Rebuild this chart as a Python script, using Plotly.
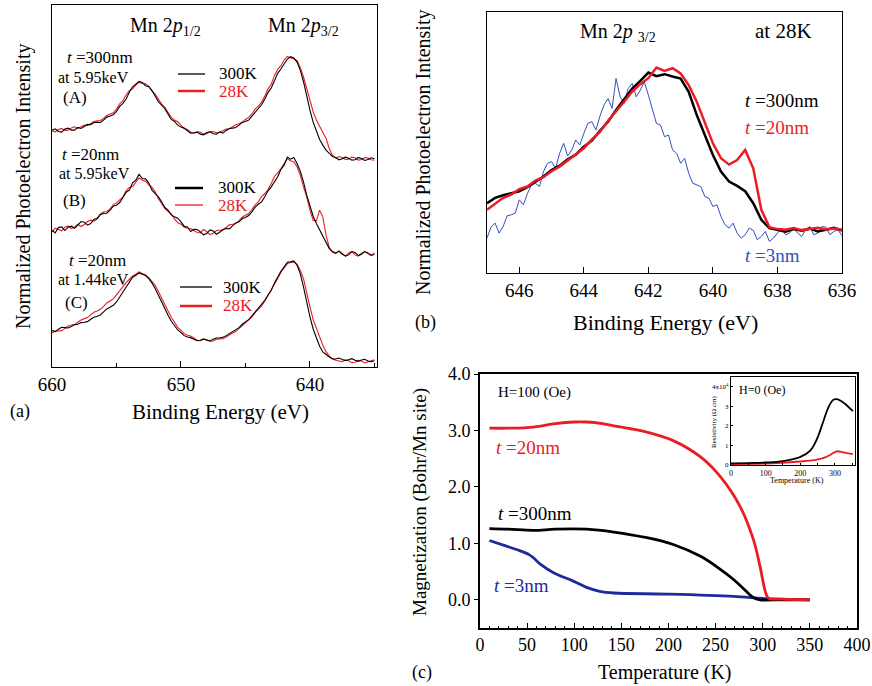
import plotly.graph_objects as go

# ---------------- Panel (a) data: binding energy grid (eV) ----------------
E_A = [660.0, 659.75, 659.5, 659.25, 659.0, 658.75, 658.5, 658.25, 658.0, 657.75,
       657.5, 657.25, 657.0, 656.75, 656.5, 656.25, 656.0, 655.75, 655.5, 655.25,
       655.0, 654.75, 654.5, 654.25, 654.0, 653.75, 653.5, 653.25, 653.0, 652.75,
       652.5, 652.25, 652.0, 651.75, 651.5, 651.25, 651.0, 650.75, 650.5, 650.25,
       650.0, 649.75, 649.5, 649.25, 649.0, 648.75, 648.5, 648.25, 648.0, 647.75,
       647.5, 647.25, 647.0, 646.75, 646.5, 646.25, 646.0, 645.75, 645.5, 645.25,
       645.0, 644.75, 644.5, 644.25, 644.0, 643.75, 643.5, 643.25, 643.0, 642.75,
       642.5, 642.25, 642.0, 641.75, 641.5, 641.25, 641.0, 640.75, 640.5, 640.25,
       640.0, 639.75, 639.5, 639.25, 639.0, 638.75, 638.5, 638.25, 638.0, 637.75,
       637.5, 637.25, 637.0, 636.75, 636.5, 636.25, 636.0, 635.75, 635.5, 635.25,
       635.0]

A_300K = [71.0, 71.4, 70.6, 70.4, 71.3, 71.6, 71.0, 71.0, 71.8, 71.5, 72.1, 72.7, 72.6, 73.3, 73.4, 73.3, 74.0, 74.9, 75.2, 75.6, 76.6,
          78.1, 79.0, 80.3, 82.4, 84.0, 84.8, 85.6, 85.3, 84.3, 84.0, 82.9, 81.2, 79.5, 78.5, 77.4, 75.8, 74.2, 73.6, 72.5, 71.9,
          71.6, 70.8, 70.1, 70.2, 70.4, 69.8, 69.6, 70.3, 70.5, 69.9, 69.8, 70.5, 70.1, 70.9, 71.5, 71.6, 71.8, 72.5, 73.3, 73.6,
          74.0, 75.2, 76.4, 77.4, 78.6, 80.3, 82.3, 83.6, 86.0, 88.0, 89.3, 91.0, 92.3, 93.0, 92.6, 91.4, 89.0, 85.5, 81.0, 77.0,
          73.4, 70.5, 68.2, 66.5, 65.0, 64.0, 63.1, 62.8, 62.1, 62.4, 62.9, 62.6, 62.0, 62.1, 62.8, 62.5, 61.9, 62.2, 62.7, 62.4]
A_28K = [70.8, 70.5, 71.2, 71.5, 70.9, 71.0, 71.6, 72.0, 71.5, 71.9, 72.5, 72.4, 72.9, 73.6, 73.8, 73.9, 74.5, 75.4, 75.8, 76.2, 77.3,
         78.9, 79.8, 81.6, 82.8, 83.4, 84.5, 85.3, 85.0, 84.9, 84.2, 82.7, 81.8, 80.1, 78.8, 77.8, 76.3, 74.8, 74.0, 73.5, 72.4,
         71.5, 71.2, 70.4, 70.0, 70.5, 70.4, 69.8, 69.9, 70.5, 70.6, 70.2, 70.3, 70.9, 71.3, 71.4, 72.0, 72.6, 72.9, 73.4, 74.2,
         74.8, 75.9, 77.3, 78.2, 79.4, 81.2, 83.3, 84.8, 87.4, 89.2, 90.3, 92.0, 93.1, 92.6, 92.4, 91.8, 89.8, 87.0, 83.6, 80.0,
         76.5, 74.0, 72.0, 70.5, 68.5, 65.5, 63.4, 62.6, 63.1, 62.8, 62.2, 62.3, 62.9, 62.7, 62.0, 62.2, 62.8, 62.6, 62.1, 62.0]
B_300K = [41.0, 40.2, 41.8, 42.0, 40.9, 41.9, 42.2, 41.6, 42.5, 43.6, 43.4, 42.5, 43.0, 44.2, 44.6, 45.7, 46.0, 46.1, 47.0, 48.2, 48.5,
          49.3, 50.8, 52.4, 53.0, 55.2, 56.0, 57.8, 56.5, 56.4, 55.2, 53.0, 52.0, 51.0, 49.5, 47.8, 47.0, 45.6, 45.0, 44.6, 43.5,
          42.2, 42.0, 40.6, 41.3, 41.2, 40.5, 39.6, 40.0, 41.1, 40.8, 39.8, 40.4, 41.2, 41.5, 41.4, 42.3, 43.2, 43.5, 44.5, 44.8,
          45.4, 46.5, 47.9, 48.8, 49.5, 51.0, 52.8, 54.0, 55.4, 57.0, 59.2, 60.5, 62.9, 62.3, 62.8, 61.0, 58.7, 55.5, 51.5, 48.0,
          45.2, 43.0, 41.0, 39.5, 37.4, 35.5, 34.6, 34.2, 34.7, 34.0, 33.2, 33.6, 34.6, 34.3, 33.4, 33.8, 34.6, 34.2, 33.5, 33.7]
B_28K = [40.5, 41.6, 41.2, 40.8, 41.9, 42.3, 41.5, 42.0, 42.8, 42.1, 42.7, 43.6, 44.0, 43.7, 44.3, 45.8, 46.5, 46.6, 47.4, 48.6, 49.2,
         50.0, 51.0, 52.9, 53.8, 54.1, 55.3, 56.7, 56.0, 55.7, 54.6, 53.9, 52.5, 50.4, 49.0, 47.5, 46.6, 45.8, 44.4, 43.2, 42.8,
         41.9, 41.6, 41.5, 40.9, 40.3, 40.2, 41.2, 40.6, 39.7, 40.1, 40.9, 41.0, 41.0, 41.8, 42.6, 42.8, 43.0, 43.9, 44.9, 45.5,
         46.0, 47.2, 48.6, 49.5, 51.1, 52.0, 53.2, 55.0, 57.1, 58.2, 59.4, 61.0, 62.4, 61.8, 61.5, 60.0, 57.5, 54.0, 51.0, 47.0,
         44.0, 43.8, 47.0, 45.0, 39.5, 35.8, 34.4, 34.0, 34.8, 33.8, 33.3, 34.2, 34.6, 33.6, 33.2, 34.1, 34.6, 33.9, 33.4, 34.3]
C_300K = [11.0, 10.6, 11.3, 11.9, 11.8, 11.7, 12.1, 12.7, 12.8, 13.3, 13.4, 13.6, 14.3, 14.9, 15.2, 15.6, 16.5, 17.4, 17.9, 18.5, 19.5,
          21.0, 22.5, 24.3, 25.5, 26.9, 27.5, 28.2, 27.8, 27.4, 26.5, 25.2, 23.5, 21.4, 19.5, 17.2, 15.5, 13.7, 12.3, 11.1, 10.3,
          9.4, 9.0, 8.8, 8.3, 7.9, 8.0, 8.4, 8.0, 7.8, 8.3, 8.7, 8.7, 8.9, 9.4, 10.0, 10.5, 11.0, 11.8, 12.8, 13.5,
          14.2, 15.3, 16.5, 17.5, 18.6, 20.0, 21.6, 23.0, 25.2, 27.0, 28.7, 30.0, 31.4, 31.5, 31.8, 30.5, 28.0, 24.0, 19.4, 15.0,
          11.4, 8.5, 6.2, 4.5, 3.6, 3.0, 2.4, 2.4, 2.7, 2.3, 1.9, 2.2, 2.5, 2.0, 1.7, 2.1, 2.3, 1.8, 1.6, 1.9]
C_28K = [10.2, 10.7, 10.8, 10.9, 11.5, 12.3, 12.6, 12.7, 13.4, 14.1, 14.5, 14.8, 15.6, 16.4, 16.8, 17.3, 18.2, 19.2, 19.8, 20.4, 21.6,
         22.9, 24.0, 25.3, 26.3, 27.3, 27.8, 28.5, 28.0, 27.6, 26.8, 25.8, 24.5, 22.6, 20.8, 18.6, 16.8, 14.9, 13.3, 11.9, 11.0,
         10.0, 9.5, 9.3, 8.7, 8.0, 7.9, 8.3, 8.2, 7.7, 7.8, 8.3, 8.4, 8.5, 9.0, 9.7, 10.2, 10.6, 11.5, 12.5, 13.2,
         14.0, 15.0, 16.3, 17.2, 18.3, 19.8, 21.5, 22.8, 24.9, 26.5, 28.4, 29.8, 31.0, 31.3, 31.5, 30.8, 29.0, 26.5, 22.0, 18.0,
         14.2, 11.5, 8.6, 6.5, 4.6, 3.2, 2.5, 2.0, 1.8, 1.6, 2.2, 1.9, 1.3, 1.4, 2.0, 1.8, 1.2, 1.5, 1.9, 2.2]

# ---------------- Panel (b) data ----------------
E_B = [647.0, 646.75, 646.5, 646.25, 646.0, 645.75, 645.5, 645.25, 645.0,
       644.75, 644.5, 644.25, 644.0, 643.75, 643.5, 643.25, 643.0,
       642.75, 642.5, 642.25, 642.0, 641.75, 641.5, 641.25, 641.0,
       640.75, 640.5, 640.25, 640.0, 639.75, 639.5, 639.25, 639.0,
       638.75, 638.5, 638.25, 638.0, 637.75, 637.5, 637.25, 637.0,
       636.75, 636.5, 636.25, 636.0]
b_300nm = [21.0, 22.6, 23.4, 23.9, 24.6, 25.8, 27.3, 29.0, 31.0,
           32.3, 34.2, 35.6, 38.0, 39.8, 42.8, 45.5, 49.0,
           52.2, 55.5, 57.8, 60.3, 59.2, 59.8, 59.1, 58.5,
           54.5, 47.5, 41.5, 35.5, 30.5, 27.5, 26.2, 24.6,
           21.0, 16.0, 13.5, 12.9, 12.4, 13.2, 12.7, 13.4,
           12.5, 13.0, 13.6, 12.8]
b_20nm = [19.0, 20.8, 22.6, 23.6, 25.2, 26.0, 27.8, 28.8, 30.6,
          32.0, 33.8, 35.8, 37.5, 40.2, 42.4, 45.8, 48.5,
          51.5, 54.6, 56.8, 58.6, 61.8, 60.8, 61.6, 60.0,
          56.5, 51.5, 45.0, 39.0, 34.5, 32.6, 34.0, 37.0,
          31.5, 19.0, 13.8, 13.2, 13.0, 13.5, 12.9, 13.3,
          13.6, 13.1, 13.4, 13.0]
E_B3 = [647.0, 646.875, 646.75, 646.625, 646.5, 646.375, 646.25, 646.125, 646.0,
        645.875, 645.75, 645.625, 645.5, 645.375, 645.25, 645.125, 645.0,
        644.875, 644.75, 644.625, 644.5, 644.375, 644.25, 644.125, 644.0,
        643.875, 643.75, 643.625, 643.5, 643.375, 643.25, 643.125, 643.0,
        642.875, 642.75, 642.625, 642.5, 642.375, 642.25, 642.125, 642.0,
        641.875, 641.75, 641.625, 641.5, 641.375, 641.25, 641.125, 641.0,
        640.875, 640.75, 640.625, 640.5, 640.375, 640.25, 640.125, 640.0,
        639.875, 639.75, 639.625, 639.5, 639.375, 639.25, 639.125, 639.0,
        638.875, 638.75, 638.625, 638.5, 638.375, 638.25, 638.125, 638.0,
        637.875, 637.75, 637.625, 637.5, 637.375, 637.25, 637.125, 637.0,
        636.875, 636.75, 636.625, 636.5, 636.375, 636.25, 636.125, 636.0]
b_3nm = [10.5, 13.8, 15.0, 12.0, 14.0, 17.2, 17.5, 18.0, 22.0,
         20.5, 23.8, 26.5, 27.0, 26.0, 30.5, 33.0, 33.5,
         31.5, 36.0, 39.0, 35.2, 37.0, 40.0, 38.5, 42.0,
         45.0, 45.5, 43.0, 47.2, 50.5, 52.5, 49.5, 58.5,
         53.0, 51.0, 55.5, 57.0, 53.0, 55.0, 57.5, 53.5,
         49.0, 45.0, 44.5, 41.0, 41.5, 37.0, 36.0, 33.0,
         34.5, 30.0, 27.0, 26.5, 26.0, 23.0, 22.5, 20.0,
         20.5, 17.0, 14.5, 13.5, 15.0, 12.0, 10.5, 11.5,
         13.5, 12.8, 10.0, 11.0, 12.5, 9.5, 10.5, 12.0,
         13.5, 11.5, 12.0, 13.5, 12.0, 11.0, 13.0, 14.0,
         11.5, 12.0, 14.0, 13.8, 11.5, 12.5, 13.0, 11.2]

# ---------------- Panel (c) data ----------------
T_20nm = [10, 30, 57, 80, 100, 113, 130, 142, 160, 177, 205, 234, 255, 276, 290, 297, 303, 306, 320, 350]
M_20nm = [3.04, 3.04, 3.06, 3.12, 3.15, 3.15, 3.12, 3.08, 3.03, 2.97, 2.82, 2.53, 2.18, 1.65, 1.07, 0.6, 0.13, 0.03, 0.01, 0.0]
T_300nm = [10, 30, 57, 80, 113, 142, 177, 205, 234, 255, 269, 280, 290, 297, 320, 350]
M_300nm = [1.26, 1.25, 1.23, 1.25, 1.25, 1.2, 1.1, 0.98, 0.77, 0.54, 0.36, 0.19, 0.04, 0.0, 0.0, 0.0]
T_3nm = [10, 28, 42, 52, 57, 64, 78, 99, 113, 127, 142, 198, 269, 304, 350]
M_3nm = [1.05, 0.95, 0.87, 0.8, 0.74, 0.63, 0.48, 0.33, 0.22, 0.15, 0.12, 0.10, 0.06, 0.02, 0.0]

# inset resistivity
T_rho_300nm = [0, 50, 100, 150, 199, 228, 247, 266, 280, 295, 305, 324, 352]
rho_300nm = [0.08, 0.1, 0.13, 0.2, 0.4, 0.72, 1.28, 2.2, 2.9, 3.33, 3.37, 3.2, 2.75]
T_rho_20nm = [0, 100, 199, 240, 266, 285, 305, 324, 352]
rho_20nm = [0.05, 0.07, 0.18, 0.25, 0.35, 0.5, 0.7, 0.65, 0.55]

A_TICKS = [660, 650, 640]
A_MINOR = [655, 645, 635]
B_TICKS = [646, 644, 642, 640, 638, 636]
C_YTICKS = [0, 1, 2, 3, 4]
C_YTEXT = ["0.0", "1.0", "2.0", "3.0", "4.0"]
INSET_XTICKS = [0, 100, 200, 300]
INSET_YTEXT = ["0", "1", "2", "3", "4x10<sup>4</sup>"]

RED = "#ec1c24"
BLACK = "#000000"
BLUE_B = "#3050c0"
BLUE_C = "#1c2a9a"
FONT = "Liberation Serif"

W, H = 872, 686
def px(x):
    return x / W
def py(y):
    return 1 - y / H

fig = go.Figure()

def add(x, y, color, width, xa, ya, shape="linear"):
    fig.add_trace(go.Scatter(x=x, y=y, mode="lines", xaxis=xa, yaxis=ya,
                             line=dict(color=color, width=width, shape=shape),
                             hoverinfo="skip"))

# panel (a)
add(E_A, A_28K, RED, 1.1, "x", "y")
add(E_A, A_300K, BLACK, 1.1, "x", "y")
add(E_A, B_28K, RED, 1.1, "x", "y")
add(E_A, B_300K, BLACK, 1.1, "x", "y")
add(E_A, C_28K, RED, 1.1, "x", "y")
add(E_A, C_300K, BLACK, 1.1, "x", "y")
# panel (b)
add(E_B3, b_3nm, BLUE_B, 1.0, "x2", "y2")
add(E_B, b_300nm, BLACK, 2.5, "x2", "y2")
add(E_B, b_20nm, RED, 2.5, "x2", "y2")
# panel (c)
add(T_3nm, M_3nm, BLUE_C, 2.8, "x3", "y3", "spline")
add(T_300nm, M_300nm, BLACK, 2.8, "x3", "y3", "spline")
add(T_20nm, M_20nm, RED, 2.8, "x3", "y3", "spline")
# inset
add(T_rho_20nm, rho_20nm, RED, 1.8, "x4", "y4", "spline")
add(T_rho_300nm, rho_300nm, BLACK, 1.8, "x4", "y4", "spline")

def ax(**kw):
    d = dict(showline=True, mirror=True, linecolor="black", showgrid=False,
             zeroline=False, tickcolor="black", automargin=False)
    d.update(kw)
    return d

layout = dict(
    template="none",
    width=W, height=H, margin=dict(l=0, r=0, t=0, b=0, pad=0), autosize=False,
    paper_bgcolor="white", plot_bgcolor="white", showlegend=False,
    font=dict(family=FONT, color="black"),
    xaxis=ax(domain=[px(52), px(377)], anchor="y", range=[660, 634.8],
             linewidth=1.3, tickvals=A_TICKS, ticks="inside", ticklen=6, tickwidth=1.2,
             tickfont=dict(family=FONT, size=19, color="black"),
             minor=dict(tickvals=A_MINOR, ticks="inside", ticklen=4, tickcolor="black")),
    yaxis=ax(domain=[py(367), py(5)], anchor="x", range=[0, 108.5],
             linewidth=1.3, showticklabels=False, ticks=""),
    xaxis2=ax(domain=[px(487), px(842)], anchor="y2", range=[647, 636],
              linewidth=1.3, tickvals=B_TICKS, ticks="inside", ticklen=6, tickwidth=1.2,
              tickfont=dict(family=FONT, size=19, color="black")),
    yaxis2=ax(domain=[py(273), py(12)], anchor="x2", range=[0, 78.5],
              linewidth=1.3, showticklabels=False, ticks=""),
    xaxis3=ax(domain=[px(480), px(857)], anchor="y3", range=[0, 400],
              linewidth=1.6, dtick=50, tick0=0, ticks="inside", ticklen=5, tickwidth=1,
              tickfont=dict(family=FONT, size=18, color="black"),
              minor=dict(dtick=10, tick0=0, ticks="inside", ticklen=2.5, tickcolor="black")),
    yaxis3=ax(domain=[py(628), py(374)], anchor="x3", range=[-0.5, 4.0],
              linewidth=1.6, tickvals=C_YTICKS, ticktext=C_YTEXT, ticks="outside",
              ticklen=4, tickwidth=1,
              tickfont=dict(family=FONT, size=18, color="black")),
    xaxis4=ax(domain=[px(731), px(855)], anchor="y4", range=[0, 358],
              linewidth=1.2, tickvals=INSET_XTICKS, ticks="inside", ticklen=2,
              tickfont=dict(family=FONT, size=8, color="black"),
              minor=dict(dtick=50, ticks="inside", ticklen=1.5, tickcolor="black")),
    yaxis4=ax(domain=[py(465), py(377)], anchor="x4", range=[0, 4.5],
              linewidth=1.2, tickvals=C_YTICKS, ticktext=INSET_YTEXT, ticks="inside",
              ticklen=2, tickfont=dict(family=FONT, size=7, color="black")),
)
fig.update_layout(**layout)

ann = []
def text(x, y, s, size, color="black", xanchor="left", angle=0):
    ann.append(dict(x=px(x), y=py(y), xref="paper", yref="paper", text=s, showarrow=False,
                    xanchor=xanchor, yanchor="middle", textangle=angle,
                    font=dict(family=FONT, size=size, color=color)))

# panel (a) texts
text(165, 27, "Mn 2<i>p</i><sub>1/2</sub>", 20, xanchor="center")
text(303, 27, "Mn 2<i>p</i><sub>3/2</sub>", 20, xanchor="center")
text(65, 58, "<i>t</i> =300nm", 17)
text(56, 78, "at 5.95keV", 16)
text(61, 98, "(A)", 17)
text(60, 155, "<i>t</i> =20nm", 17)
text(57, 173, "at 5.95keV", 16)
text(61, 200, "(B)", 17)
text(67, 260, "<i>t</i> =20nm", 17)
text(56, 279, "at 1.44keV", 16)
text(63, 302, "(C)", 17)
text(217, 74, "300K", 17)
text(217, 91, "28K", 17, RED)
text(216, 187, "300K", 17)
text(216, 205, "28K", 17, RED)
text(221, 287, "300K", 17)
text(221, 306, "28K", 17, RED)
text(23, 187, "Normalized Photoelectron Intensity", 20, xanchor="center", angle=-90)
text(20, 412, "(a)", 18, xanchor="center")
text(220, 412, "Binding Energy (eV)", 21, xanchor="center")

# panel (b) texts
text(618, 33, "Mn 2<i>p</i> <sub>3/2</sub>", 20, xanchor="center")
text(783, 31, "at 28K", 21, xanchor="center")
text(743, 100, "<i>t</i> =300nm", 19)
text(743, 128, "<i>t</i> =20nm", 19, RED)
text(743, 256, "<i>t</i> =3nm", 19, BLUE_B)
text(424, 153, "Normalized Photoelectron Intensity", 20, xanchor="center", angle=-90)
text(425, 322, "(b)", 18, xanchor="center")
text(665, 322, "Binding Energy (eV)", 22, xanchor="center")

# panel (c) texts
text(496, 392, "H=100 (Oe)", 15)
text(494, 447, "<i>t</i> =20nm", 19, RED)
text(496, 513, "<i>t</i> =300nm", 19)
text(492, 585, "<i>t</i> =3nm", 19, BLUE_C)
text(420, 502, "Magnetization (Bohr/Mn site)", 19, xanchor="center", angle=-90)
text(422, 672, "(c)", 18, xanchor="center")
text(665, 672, "Temperature (K)", 20, xanchor="center")
# inset texts
text(737, 390, "H=0 (Oe)", 12)
text(714, 422, "Resistivity (Ω cm)", 7, xanchor="center", angle=-90)
text(797, 480, "Temperature (K)", 8, xanchor="center")

fig.update_layout(annotations=ann)

# legend sample lines in panel (a)
shapes = []
def seg(x0, x1, y, color, width):
    shapes.append(dict(type="line", xref="paper", yref="paper", x0=px(x0), x1=px(x1),
                       y0=py(y), y1=py(y), line=dict(color=color, width=width)))
seg(178, 205, 74, BLACK, 1.3)
seg(178, 205, 91, RED, 2.5)
seg(175, 203, 188, BLACK, 2.5)
seg(175, 203, 205, RED, 1.3)
seg(180, 212, 287, BLACK, 1.3)
seg(180, 212, 306, RED, 2.5)
fig.update_layout(shapes=shapes)

fig.write_html("out.html", config={"displayModeBar": False},
               post_script="document.body.style.margin='0';document.body.style.overflow='hidden';")
